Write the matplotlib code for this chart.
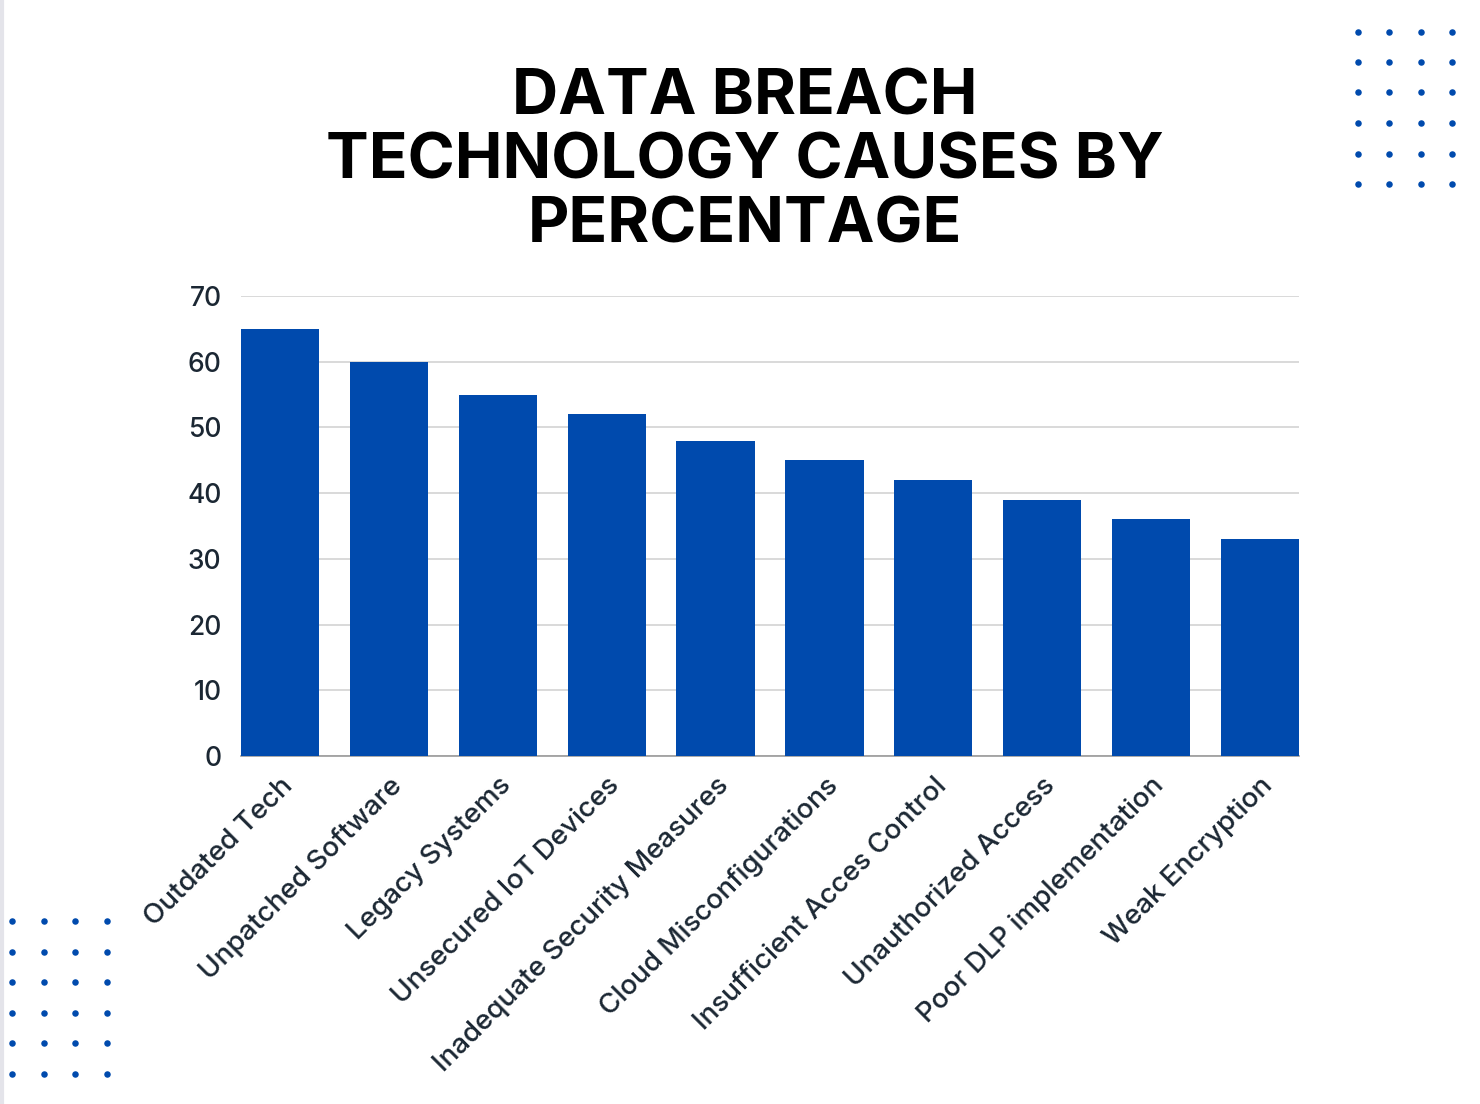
import matplotlib.pyplot as plt
import numpy as np

causes = ['Outdated Tech', 'Unpatched Software', 'Legacy Systems',
          'Unsecured IoT Devices', 'Inadequate Security Measures',
          'Cloud Misconfigurations', 'Insufficient Acces Control',
          'Unauthorized Access', 'Poor DLP implementation', 'Weak Encryption']
percent = [65, 60, 55, 52, 48, 45, 42, 39, 36, 33]
yticks = [0, 10, 20, 30, 40, 50, 60, 70]

blue = '#004aad'
txt = '#1b2733'

plt.rcParams['font.family'] = ['Inter', 'DejaVu Sans']

fig = plt.figure(figsize=(14.8, 11.04), dpi=100)
W, H = 1480, 1104
ax = fig.add_axes([241 / W, 1 - 756 / H, (1299 - 241) / W, (756 - 296) / H])

x = np.arange(len(causes))
ax.bar(x, percent, width=0.72, color=blue, zorder=3)
ax.set_xlim(-0.36, len(causes) - 1 + 0.36)
ax.set_ylim(0, 70)
ax.set_yticks(yticks)
ax.set_yticklabels([str(v) for v in yticks], fontsize=19, color=txt, fontweight=500)
ax.set_xticks(x)
ax.set_xticklabels(causes, rotation=45, ha='right', rotation_mode='anchor',
                   fontsize=20, color=txt, fontweight=500)
ax.tick_params(axis='both', length=0)
ax.tick_params(axis='y', pad=14)
ax.tick_params(axis='x', pad=12)
ax.grid(axis='y', color='#d3d3d3', linewidth=1.2, zorder=0)
for s in ['top', 'right', 'left']:
    ax.spines[s].set_visible(False)
ax.spines['bottom'].set_color('#9a9a9a')
ax.spines['bottom'].set_linewidth(1.2)

fig.text(745 / W, 1 - 162 / H, 'DATA BREACH\nTECHNOLOGY CAUSES BY\nPERCENTAGE',
         ha='center', va='center', fontsize=46, fontweight=700,
         color='black', linespacing=1.1)

# decoration layer: dots and left border
deco = fig.add_axes([0, 0, 1, 1], zorder=-1)
deco.set_xlim(0, W)
deco.set_ylim(H, 0)
deco.axis('off')
for cols, rows in [([1358, 1389, 1421, 1452], [32, 62, 92, 123, 154, 184]),
                   ([12, 44, 75, 107], [921, 952, 982, 1013, 1043, 1074])]:
    gx, gy = np.meshgrid(cols, rows)
    deco.scatter(gx.ravel(), gy.ravel(), s=22, color=blue, linewidths=0)
deco.axvline(1.5, color='#e4e4ea', linewidth=3)

fig.savefig('out.png', dpi=100)
